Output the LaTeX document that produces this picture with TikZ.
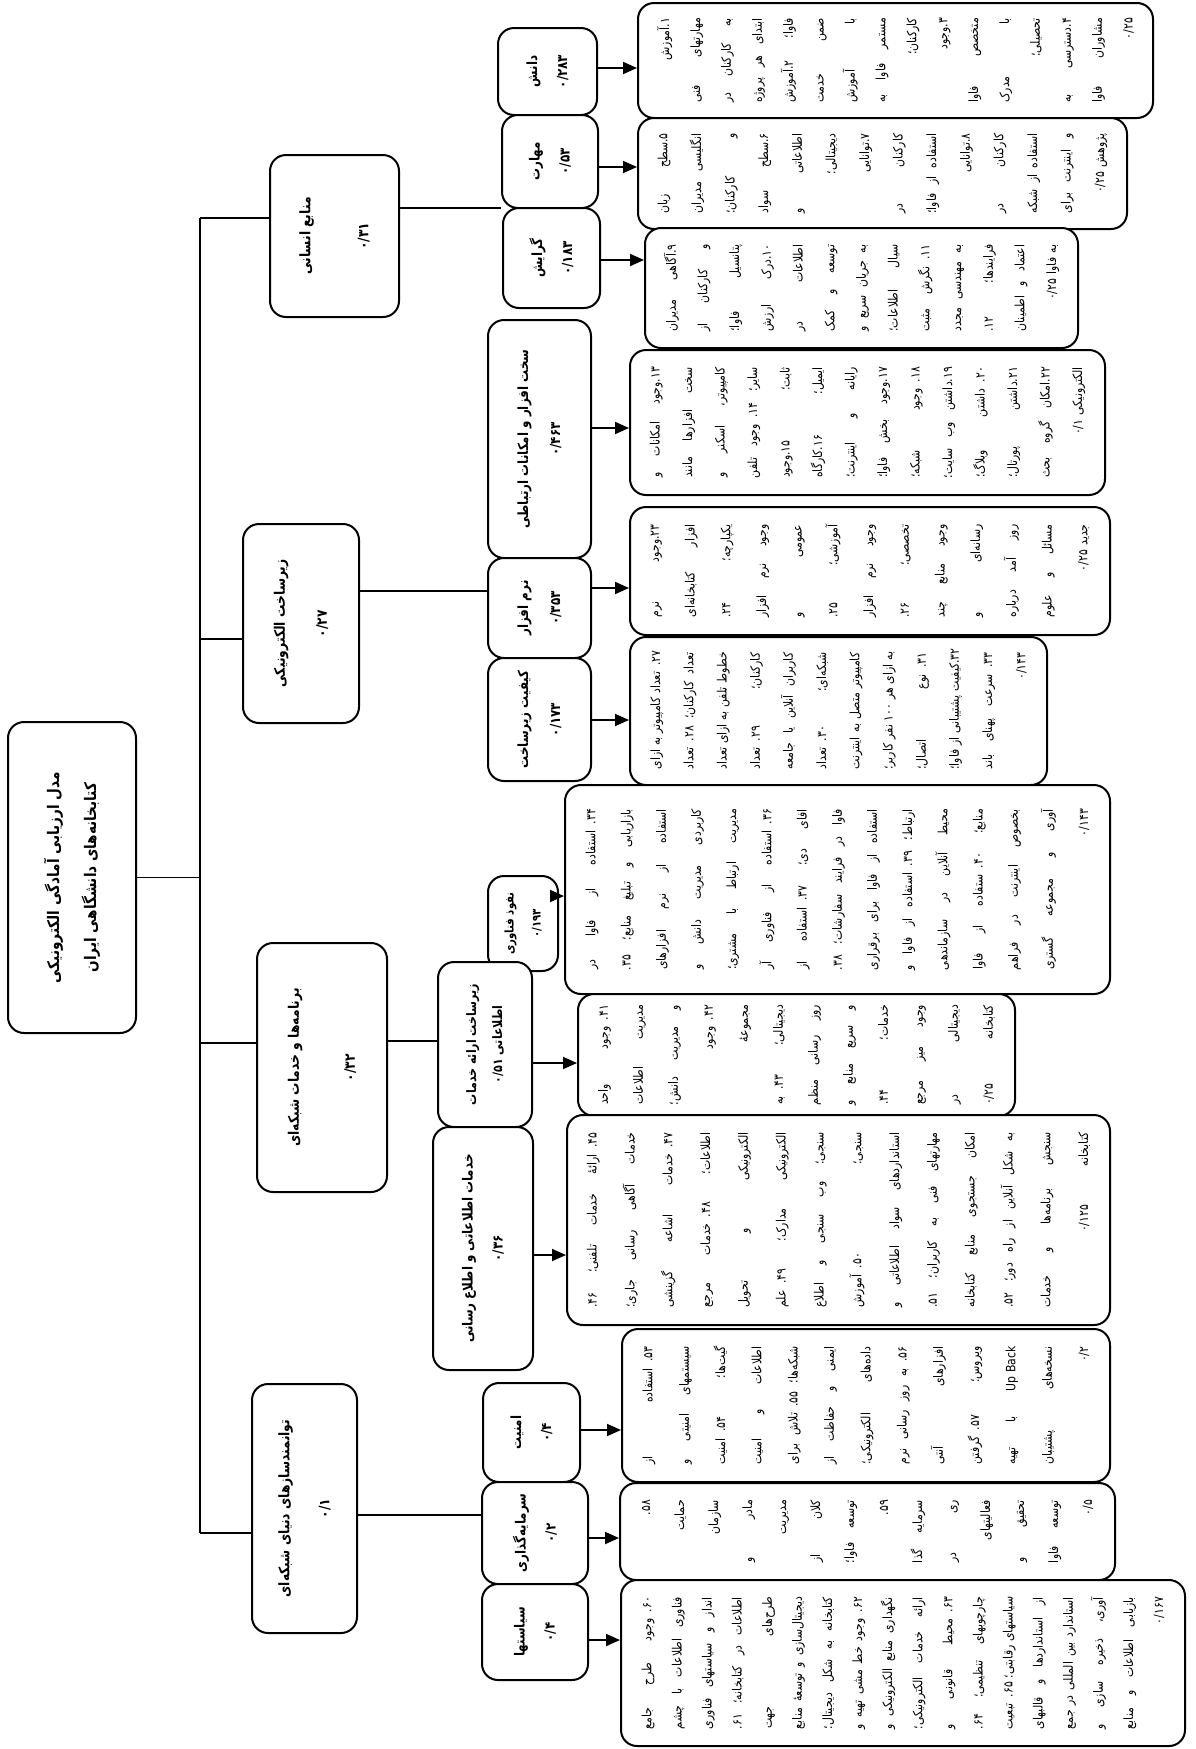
\documentclass[tikz,border=0pt]{standalone}
\usepackage{fontspec}
\newfontfamily\fa[Script=Arabic,FakeStretch=0.85]{DejaVu Sans}
\TeXXeTstate=1
\usetikzlibrary{arrows.meta}
\newcommand\J[1]{\hbox to\linewidth{\spaceskip=.3em plus 1fil\relax\hskip0pt plus .001fil\relax\beginR#1\endR}}
\newcommand\R[1]{\hbox to\linewidth{\hfil\beginR#1\endR}}
\newcommand\lf[2]{\fa\bfseries\fontsize{#1pt}{#2pt}\selectfont}
\newcommand\df[1]{\fa\fontsize{12.8pt}{#1pt}\selectfont}
\newcommand\mybox[7]{\node[#6,minimum width={(#5)-(#3)},minimum height={(#4)-(#2)}] (#1) at ({((#2)+(#4))/2},{((#3)+(#5))/2}) {#7};}
\tikzset{
 bxs/.style={draw,line width=2pt,rounded corners=16pt,fill=white,rotate=90,inner sep=0pt},
 lbl/.style={bxs,align=center},
 dbx/.style={bxs},
 ln/.style={line width=1.8pt},
 ar/.style={line width=1.8pt,-{Triangle[length=14pt,width=12pt]}},
}
\begin{document}
\begin{tikzpicture}[x=1pt,y=-1pt]
\useasboundingbox (0,0) rectangle (1195,1749);
\fill[white] (0,0) rectangle (1195,1749);

% root and first level
\mybox{root}{8}{722}{136}{1033}{lbl,font={\lf{16}{37}}}{\beginR مدل ارزیابی آمادگی الکترونیکی\endR\\\beginR کتابخانه^^^^200cهای دانشگاهی ایران\endR}
\mybox{a1}{270}{155}{399}{317}{lbl,font={\lf{14.5}{58}}}{\beginR منابع انسانی\endR\\\beginR ۰/۳۱\endR}
\mybox{a2}{243}{524}{359}{723}{lbl,font={\lf{14.5}{42}}}{\beginR زیرساخت الکترونیکی\endR\\\beginR ۰/۲۷\endR}
\mybox{a3}{257}{943}{387}{1192}{lbl,font={\lf{14.5}{56}}}{\beginR برنامه^^^^200cها و خدمات شبکه^^^^200cای\endR\\\beginR ۰/۳۲\endR}
\mybox{a4}{252}{1384}{357}{1633}{lbl,font={\lf{14.5}{40}}}{\beginR توانمندسازهای دنیای شبکه^^^^200cای\endR\\\beginR ۰/۱\endR}

% second level
\mybox{b1}{498}{28}{597}{115}{lbl,font={\lf{14}{30}}}{\beginR دانش\endR\\\beginR ۰/۲۸۳\endR}
\mybox{b2}{502}{115}{598}{208}{lbl,font={\lf{14}{30}}}{\beginR مهارت\endR\\\beginR ۰/۵۳\endR}
\mybox{b3}{503}{208}{600}{308}{lbl,font={\lf{14}{30}}}{\beginR گرایش\endR\\\beginR ۰/۱۸۳\endR}
\mybox{b4}{488}{320}{591}{558}{lbl,font={\lf{14}{32}}}{\beginR سخت افزار و امکانات ارتباطی\endR\\\beginR ۰/۴۶۳\endR}
\mybox{b5}{488}{558}{591}{658}{lbl,font={\lf{14}{32}}}{\beginR نرم افزار\endR\\\beginR ۰/۳۵۳\endR}
\mybox{b6}{488}{658}{591}{781}{lbl,font={\lf{14}{32}}}{\beginR کیفیت زیرساخت\endR\\\beginR ۰/۱۷۳\endR}
\mybox{b7}{488}{876}{558}{971}{lbl,font={\lf{12}{27}}}{\beginR نفوذ فناوری\endR\\\beginR ۰/۱۹۳\endR}
\mybox{b8}{438}{962}{532}{1127}{lbl,font={\lf{13}{26}}}{\beginR زیرساخت ارائه خدمات\endR\\\beginR اطلاعاتی ۰/۵۱\endR}
\mybox{b9}{433}{1127}{533}{1370}{lbl,font={\lf{14}{30}}}{\beginR خدمات اطلاعاتی و اطلاع رسانی\endR\\\beginR ۰/۳۶\endR}
\mybox{b10}{483}{1383}{580}{1482}{lbl,font={\lf{14}{30}}}{\beginR امنیت\endR\\\beginR ۰/۴\endR}
\mybox{b11}{482}{1482}{588}{1584}{lbl,font={\lf{14}{30}}}{\beginR سرمایه^^^^200cگذاری\endR\\\beginR ۰/۲\endR}
\mybox{b12}{482}{1584}{588}{1680}{lbl,font={\lf{14}{30}}}{\beginR سیاستها\endR\\\beginR ۰/۴\endR}

% detail boxes
\mybox{d1}{638}{3}{1153}{118}{dbx,text width=85pt,font={\df{30.9}}}{%
\R{۱.آموزش}
\J{مهارتهای فنی}
\J{به کارکنان در}
\J{ابتدای هر پروژه}
\J{فاوا؛ ۲.آموزش}
\J{ضمن خدمت}
\J{با آموزش}
\J{مستمر فاوا به}
\R{کارکنان؛}
\R{۳.وجود}
\J{متخصص فاوا}
\J{با مدرک}
\R{تحصیلی؛}
\J{۴.دسترسی به}
\J{مشاوران فاوا}
\R{۰/۲۵}}
\mybox{d2}{638}{118}{1127}{229}{dbx,text width=80pt,font={\df{33.6}}}{%
\J{۵.سطح زبان}
\J{انگلیسی مدیران}
\J{و کارکنان؛}
\J{۶.سطح سواد}
\J{اطلاعاتی و}
\R{دیجیتالی؛}
\R{۷.توانایی}
\J{کارکنان در}
\J{استفاده از فاوا؛}
\R{۸.توانایی}
\J{کارکنان در}
\J{استفاده از شبکه}
\J{و اینترنت برای}
\R{پژوهش ۰/۲۵}}
\mybox{d3}{645}{228}{1078}{348}{dbx,text width=87pt,font={\df{31.7}}}{%
\J{۹.آگاهی مدیران}
\J{و کارکنان از}
\J{پتانسیل فاوا؛}
\J{۱۰.درک ارزش}
\J{اطلاعات در}
\J{توسعه و کمک}
\J{به جریان سریع و}
\J{سیال اطلاعات؛}
\J{۱۱. نگرش مثبت}
\J{به مهندسی مجدد}
\J{فرایندها؛ ۱۲.}
\J{اعتماد و اطمینان}
\R{به فاوا ۰/۲۵}}
\mybox{d4}{630}{350}{1105}{495}{dbx,text width=111pt,font={\df{32.5}}}{%
\J{۱۳.وجود امکانات و}
\J{سخت افزارها مانند}
\J{کامپیوتر، اسکنر و}
\J{سایر؛ ۱۴. وجود تلفن}
\J{ثابت؛ ۱۵.وجود}
\J{ایمیل؛ ۱۶.کارگاه}
\J{رایانه و اینترنت؛}
\J{۱۷.وجود بخش فاوا؛}
\J{۱۸. وجود شبکه؛}
\J{۱۹.داشتن وب سایت؛}
\J{۲۰. داشتن وبلاگ؛}
\J{۲۱.داشتن پورتال؛}
\J{۲۲.امکان گروه بحث}
\R{الکترونیکی ۰/۱}}
\mybox{d5}{630}{507}{1110}{635}{dbx,text width=93pt,font={\df{35.7}}}{%
\J{۲۳.وجود نرم}
\J{افزار کتابخانه^^^^200cای}
\J{یکپارچه؛ ۲۴.}
\J{وجود نرم افزار}
\J{عمومی و}
\J{آموزشی؛ ۲۵.}
\J{وجود نرم افزار}
\J{تخصصی؛ ۲۶.}
\J{وجود منابع چند}
\J{رسانه^^^^200cای و}
\J{روز آمد درباره}
\J{مسائل و علوم}
\R{جدید ۰/۲۵}}
\mybox{d6}{630}{637}{1047}{785}{dbx,text width=117pt,font={\df{33.2}}}{%
\J{۲۷. تعداد کامپیوتر به ازای}
\J{تعداد کارکنان؛ ۲۸. تعداد}
\J{خطوط تلفن به ازای تعداد}
\J{کارکنان؛ ۲۹. تعداد}
\J{کاربران آنلاین یا جامعه}
\J{شبکه^^^^200cای؛ ۳۰. تعداد}
\J{کامپیوتر متصل به اینترنت}
\J{به ازای هر ۱۰۰ نفر کاربر؛}
\J{۳۱. نوع اتصال؛}
\J{۳۲.کیفیت پشتیبانی از فاوا؛}
\J{۳۳. سرعت پهنای باند}
\R{۰/۱۴۳}}
\mybox{d7}{565}{785}{1110}{994}{dbx,text width=161pt,font={\df{35.2}}}{%
\J{۳۴. استفاده از فاوا در}
\J{بازاریابی و تبلیغ منابع؛ ۳۵.}
\J{استفاده از نرم افزارهای}
\J{کاربردی مدیریت دانش و}
\J{مدیریت ارتباط با مشتری؛}
\J{۳۶. استفاده از فناوری آر}
\J{افای دی؛ ۳۷. استفاده از}
\J{فاوا در فرایند سفارشات؛ ۳۸.}
\J{استفاده از فاوا برای برقراری}
\J{ارتباط؛ ۳۹. استفاده از فاوا و}
\J{محیط آنلاین در سازماندهی}
\J{منابع؛ ۴۰. ستفاده از فاوا}
\J{بخصوص اینترنت در فراهم}
\J{آوری و مجموعه گستری}
\R{۰/۱۴۳}}
\mybox{d8}{578}{994}{1015}{1116}{dbx,text width=100pt,font={\df{35}}}{%
\J{۴۱. وجود واحد}
\J{مدیریت اطلاعات}
\J{و مدیریت دانش؛}
\J{۴۲. وجود}
\R{مجموعه^^^^0654}
\J{دیجیتالی؛ ۴۳. به}
\J{روز رسانی منظم}
\J{و سریع منابع و}
\J{خدمات؛ ۴۴.}
\J{وجود میز مرجع}
\J{دیجیتالی در}
\J{کتابخانه ۰/۲۵}}
\mybox{d9}{567}{1115}{1110}{1325}{dbx,text width=175pt,font={\df{37.8}}}{%
\J{۴۵. ارائه^^^^0654 خدمات تلفنی؛ ۴۶.}
\J{خدمات آگاهی رسانی جاری؛}
\J{۴۷. خدمات اشاعه گزینشی}
\J{اطلاعات؛ ۴۸. خدمات مرجع}
\J{الکترونیکی و تحویل}
\J{الکترونیکی مدارک؛ ۴۹. علم}
\J{سنجی؛ وب سنجی و اطلاع}
\J{سنجی؛ ۵۰. آموزش}
\J{استانداردهای سواد اطلاعاتی و}
\J{مهارتهای فنی به کاربران؛ ۵۱.}
\J{امکان جستجوی منابع کتابخانه}
\J{به شکل آنلاین از راه دور؛ ۵۲.}
\J{سنجش برنامه^^^^200cها و خدمات}
\R{کتابخانه\hskip3em ۰/۱۲۵}}
\mybox{d10}{622}{1329}{1110}{1482}{dbx,text width=118pt,font={\df{36.3}}}{%
\J{۵۳. استفاده از}
\J{سیستمهای امنیتی و}
\J{گیت^^^^200cها؛ ۵۴. امنیت}
\J{اطلاعات و امنیت}
\J{شبکه^^^^200cها؛ ۵۵. تلاش برای}
\J{ایمنی و حفاظت از}
\J{داده^^^^200cهای الکترونیکی؛}
\J{۵۶. به روز رسانی نرم}
\J{افزارهای آنتی}
\J{ویروس؛ ۵۷. گرفتن}
\J{\mbox{Back\kern.3em Up} با تهیه}
\J{نسخه^^^^200cهای پشتیبان}
\R{۰/۲}}
\mybox{d11}{620}{1483}{1115}{1580}{dbx,text width=63pt,font={\df{34}}}{%
\R{۵۸.}
\R{حمایت}
\R{سازمان}
\J{مادر و}
\R{مدیریت}
\J{کلان از}
\J{توسعه فاوا؛}
\R{۵۹.}
\J{سرمایه گذا}
\J{ری در}
\R{فعالیتهای}
\J{تحقیق و}
\J{توسعه فاوا}
\R{۰/۵}}
\mybox{d12}{621}{1580}{1185}{1746}{dbx,text width=132pt,font={\df{30.1}}}{%
\J{۶۰. وجود طرح جامع}
\J{فناوری اطلاعات با چشم}
\J{انداز و سیاستهای فناوری}
\J{اطلاعات در کتابخانه؛ ۶۱.}
\J{طرح^^^^200cهای جهت}
\J{دیجیتال^^^^200cسازی و توسعه^^^^0654 منابع}
\J{کتابخانه به شکل دیجیتال؛}
\J{۶۲. وجود خط مشی تهیه و}
\J{نگهداری منابع الکترونیکی و}
\J{ارائه خدمات الکترونیکی؛}
\J{۶۳. محیط قانونی و}
\J{چارچوبهای تنظیمی؛ ۶۴.}
\J{سیاستهای رقابتی؛ ۶۵. تبعیت}
\J{از استانداردها و قالبهای}
\J{استاندارد بین المللی در جمع}
\J{آوری، ذخیره سازی و}
\J{بازیابی اطلاعات و منابع}
\R{۰/۱۶۷}}

% spine and first level connectors
\coordinate (s1) at (200,218);
\coordinate (s2) at (200,1533);
\coordinate (s3) at (200,639);
\coordinate (s4) at (200,1043);
\draw[ln] (s1) -- (s2);
\draw[ln] (root.south) -- (root.south -| s1);
\draw[ln] (s1) -- (s1 -| a1.north);
\draw[ln] (s3) -- (s3 -| a2.north);
\draw[ln] (s4) -- (s4 -| a3.north);
\draw[ln] (s2) -- (s2 -| a4.north);

% first to second level
\coordinate (h1) at (0,208);
\coordinate (h2) at (0,591);
\coordinate (h3) at (0,1041);
\coordinate (h4) at (0,1515);
\draw[ln] (a1.south |- h1) -- (h1 -| b2.north);
\draw[ln] (a2.south |- h2) -- (h2 -| b5.north);
\draw[ln] (a3.south |- h3) -- (h3 -| b8.north);
\draw[ln] (a4.south |- h4) -- (h4 -| b11.north);

% arrows to detail boxes
\coordinate (r1) at (0,68);
\coordinate (r2) at (0,167);
\coordinate (r3) at (0,260);
\coordinate (r4) at (0,428);
\coordinate (r5) at (0,588);
\coordinate (r6) at (0,720);
\coordinate (r7) at (0,896);
\coordinate (r8) at (0,1063);
\coordinate (r9) at (0,1255);
\coordinate (r10) at (0,1430);
\coordinate (r11) at (0,1538);
\coordinate (r12) at (0,1640);
\draw[ar] (b1.south |- r1) -- (r1 -| d1.north);
\draw[ar] (b2.south |- r2) -- (r2 -| d2.north);
\draw[ar] (b3.south |- r3) -- (r3 -| d3.north);
\draw[ar] (b4.south |- r4) -- (r4 -| d4.north);
\draw[ar] (b5.south |- r5) -- (r5 -| d5.north);
\draw[ar] (b6.south |- r6) -- (r6 -| d6.north);
\draw[ar] (b7.south |- r7) -- (r7 -| d7.north);
\draw[ar] (b8.south |- r8) -- (r8 -| d8.north);
\draw[ar] (b9.south |- r9) -- (r9 -| d9.north);
\draw[ar] (b10.south |- r10) -- (r10 -| d10.north);
\draw[ar] (b11.south |- r11) -- (r11 -| d11.north);
\draw[ar] (b12.south |- r12) -- (r12 -| d12.north);
\end{tikzpicture}
\end{document}
